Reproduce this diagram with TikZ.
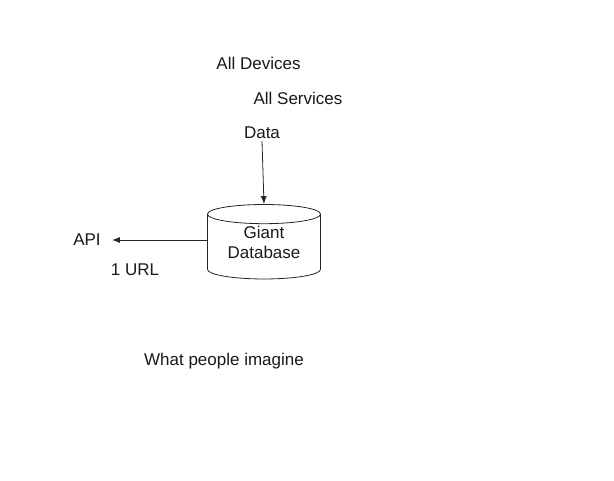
\documentclass[tikz,border=0pt]{standalone}
\usepackage{fontspec}
\setmainfont{Liberation Sans}
\usetikzlibrary{shapes,arrows,arrows.meta,positioning}

\begin{document}
\begin{tikzpicture}[x=1pt,y=-1pt,
    lbl/.style={font=\fontsize{17}{20.5}\selectfont, text=black!90, inner sep=2pt},
    flow/.style={->, line width=0.8pt, black!85, >={Latex[length=8pt,width=6pt]}}]
\useasboundingbox (0,0) rectangle (614,480);
\node[lbl] (dev) at (258.5,63) {All Devices};
\node[lbl] (srv) at (298,98) {All Services};
\node[lbl] (data) at (262,133) {Data};
\node[draw, line width=0.8pt, black!85, cylinder, shape border rotate=90, aspect=0.25, minimum width=113pt, minimum height=74pt, lbl, align=center, text depth=11pt, text=black!90] (db) at (264,248) {Giant\\Database};
\node[lbl] (api) at (87,240) {API};
\node[lbl] (url) at (135,270) {1 URL};
\node[lbl] (imagine) at (224,361) {What people imagine};
%==========
\draw[flow] (data.south) -- (db.north);
\draw[flow] (db.west |- api.east) -- ([xshift=9pt]api.east);
\end{tikzpicture}
\end{document}
